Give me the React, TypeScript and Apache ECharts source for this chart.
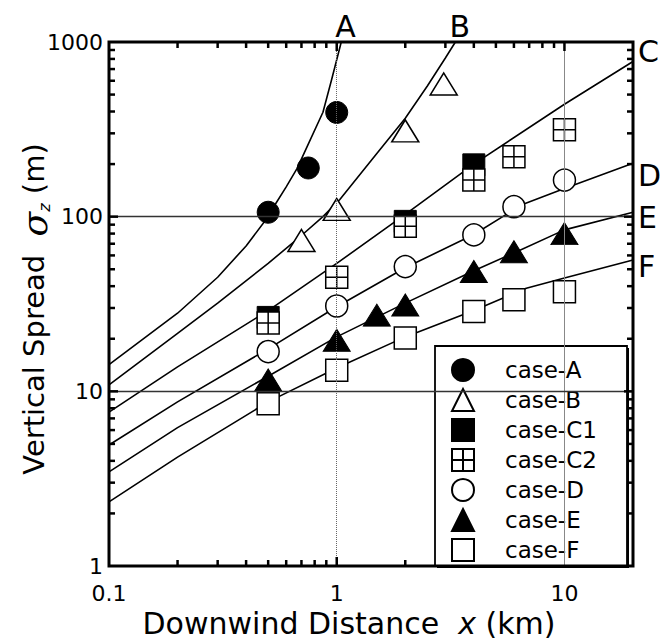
import React, { useEffect, useRef } from "react";
import * as echarts from "echarts";

// ---- axis ranges and tick labels ----
const X_MIN = 0.1;
const X_MAX = 20;
const Y_MIN = 1;
const Y_MAX = 1000;
const xTickLabels = ["0.1", "1", "10"];
const yTickLabels = ["1", "10", "100", "1000"];
const xGridValues = [1, 10];
const yGridValues = [10, 100];
const minorMultipliers = [2, 3, 4, 5, 6, 7, 8, 9];
const xDecades = [0.1, 1, 10];
const yDecades = [1, 10, 100];

// ---- stability-class curves ----
const curveNames = ["A", "B", "C", "D", "E", "F"];
const curveA = [[0.1, 14.2], [0.2, 28], [0.3, 45], [0.4, 68], [0.5, 100], [0.54, 119], [0.6, 148], [0.67, 189], [0.75, 260], [0.87, 396], [0.95, 610], [1.047, 1000]];
const curveB = [[0.1, 10.9], [0.2, 21.5], [0.3, 32], [0.5, 54], [0.7, 78], [0.87, 100], [1.03, 125], [1.5, 230], [2.0, 366], [2.5, 560], [3.0, 810], [3.32, 1000]];
const curveC = [[0.1, 7.6], [0.2, 13.8], [0.5, 29], [1, 54], [2, 103], [4, 200], [10, 440], [20, 773]];
const curveD = [[0.1, 4.93], [0.2, 8.7], [0.5, 17.5], [1, 30.5], [2, 51], [4, 79], [6.5, 117], [10, 145], [20, 202]];
const curveE = [[0.1, 3.46], [0.2, 6.2], [0.5, 12.2], [1, 20.5], [2, 32], [4, 49], [6, 62], [10, 84], [20, 106]];
const curveF = [[0.1, 2.33], [0.2, 4.2], [0.5, 8.7], [1, 13.6], [2, 20.5], [4, 29], [6.8, 38.9], [10, 44.5], [20, 56.5]];
const curves = [curveA, curveB, curveC, curveD, curveE, curveF];
// label offsets of curve-end letters
const curveLabelOffsets = [[-6, -16], [-6, -16], [5, -10], [5, 12], [5, 5], [5, 7]];

// ---- observed cases ----
const caseNames = ["case-A", "case-B", "case-C1", "case-C2", "case-D", "case-E", "case-F"];
const caseA = [[0.5, 106], [0.75, 190], [1.0, 395]];
const caseB = [[0.7, 73], [1.0, 110], [2.0, 310], [2.95, 575]];
const caseC1 = [[0.5, 26.5], [2, 94], [4, 198]];
const caseC2 = [[0.5, 24.6], [1, 45], [2, 88], [4, 162], [6, 220], [10, 314]];
const caseD = [[0.5, 16.9], [1, 30.8], [2, 51.8], [4, 78.6], [6, 114], [10, 162]];
const caseE = [[0.5, 11.6], [1, 19.6], [1.5, 27.3], [2, 31.2], [4, 48.5], [6, 63], [10, 80]];
const caseF = [[0.5, 8.5], [1, 13.2], [2, 20.2], [4, 28.6], [6, 33.4], [10, 37.2]];

const FONT = "DejaVu Sans";
const C2_PATH = "path://M0,0H20V20H0Z M10,0V20 M0,10H20";
const TICK_W = 2.5;
const MINOR_LEN = 6;
const MAJOR_LEN = 9;
const LEGEND_BOX = { x: 435, y: 346, width: 192, height: 220 };

function fmtFrom(labels: string[]) {
  return (v: number) => {
    const hit = labels.find((l) => Math.abs(Math.log10(Number(l)) - Math.log10(v)) < 1e-6);
    return hit || "";
  };
}

export default function App() {
  const ref = useRef<HTMLDivElement>(null);
  useEffect(() => {
    if (!ref.current) return;
    const chart = echarts.init(ref.current, null, { renderer: "svg" });

    const vLine = (v: number, style: any) => [{ coord: [v, Y_MIN], lineStyle: style }, { coord: [v, Y_MAX] }];
    const hLine = (v: number, style: any) => [{ coord: [X_MIN, v], lineStyle: style }, { coord: [X_MAX, v] }];

    const lineSeries = curves.map((c, i) => ({
      type: "line",
      name: curveNames[i],
      data: c,
      showSymbol: false,
      symbol: "none",
      silent: true,
      z: 2,
      lineStyle: { color: "#000", width: 1.6 },
      endLabel: {
        show: true,
        formatter: curveNames[i],
        distance: 0,
        offset: curveLabelOffsets[i],
        fontFamily: FONT,
        fontSize: 30,
        color: "#000",
      },
      markLine:
        i === 0
          ? {
              silent: true,
              symbol: ["none", "none"],
              label: { show: false },
              data: [
                vLine(xGridValues[0], { color: "#666", width: 1, type: "dotted" }),
                vLine(xGridValues[1], { color: "#888", width: 1, type: "solid" }),
                hLine(yGridValues[0], { color: "#333", width: 1.3, type: "solid" }),
                hLine(yGridValues[1], { color: "#333", width: 1.3, type: "solid" }),
              ],
            }
          : undefined,
    }));

    const openStyle = { color: "#fff", borderColor: "#000", borderWidth: 1.5, opacity: 1 };
    const filledStyle = { color: "#000", borderColor: "#000", borderWidth: 1, opacity: 1 };
    const caseDefs = [
      { data: caseA, symbol: "circle", size: 22, style: filledStyle },
      { data: caseB, symbol: "triangle", size: [27, 22], style: openStyle },
      { data: caseC1, symbol: "rect", size: 22, style: filledStyle },
      { data: caseC2, symbol: C2_PATH, size: 22, style: openStyle },
      { data: caseD, symbol: "circle", size: 22, style: openStyle },
      { data: caseE, symbol: "triangle", size: [27, 22], style: filledStyle },
      { data: caseF, symbol: "rect", size: 22, style: openStyle },
    ];
    const scatterSeries = caseDefs.map((d, i) => ({
      type: "scatter",
      name: caseNames[i],
      data: d.data,
      symbol: d.symbol,
      symbolSize: d.size,
      itemStyle: d.style,
      silent: true,
      z: 2,
    }));

    const legendBox = [
      { type: "rect", z: 3, shape: { ...LEGEND_BOX, x: LEGEND_BOX.x + 2, y: LEGEND_BOX.y + 2 }, style: { fill: "#000" } },
      { type: "rect", z: 3, shape: { ...LEGEND_BOX }, style: { fill: "#fff", stroke: "#000", lineWidth: 1.8 } },
    ];

    const yTitle = {
      type: "text",
      z: 5,
      x: 34,
      y: 309,
      rotation: Math.PI / 2,
      style: {
        text: "Vertical Spread  {s|σ}{z|z} (m)",
        fontFamily: FONT,
        fontSize: 29,
        fill: "#000",
        align: "center",
        verticalAlign: "middle",
        rich: {
          s: { fontFamily: "DejaVu Serif", fontStyle: "italic", fontSize: 36, fill: "#000" },
          z: { fontFamily: FONT, fontStyle: "italic", fontSize: 16, fill: "#000", verticalAlign: "bottom" },
        },
      },
    };

    chart.setOption({
      animation: false,
      backgroundColor: "#fff",
      grid: { left: 109, top: 42, width: 524, height: 524, show: false, containLabel: false, outerBoundsMode: "none" },
      xAxis: {
        type: "log",
        logBase: 10,
        min: X_MIN,
        max: X_MAX,
        axisLine: { show: false },
        axisTick: { show: false },
        splitLine: { show: false },
        axisLabel: { formatter: fmtFrom(xTickLabels), fontFamily: FONT, fontSize: 22, color: "#000", margin: 16 },
        name: "Downwind Distance  {i|x} (km)",
        nameLocation: "middle",
        nameGap: 37,
        nameTextStyle: {
          fontFamily: FONT,
          fontSize: 30,
          color: "#000",
          padding: [0, 44, 0, 0],
          rich: { i: { fontFamily: FONT, fontStyle: "italic", fontSize: 30, color: "#000" } },
        },
      },
      yAxis: {
        type: "log",
        logBase: 10,
        min: Y_MIN,
        max: Y_MAX,
        axisLine: { show: false },
        axisTick: { show: false },
        splitLine: { show: false },
        axisLabel: { formatter: fmtFrom(yTickLabels), fontFamily: FONT, fontSize: 22, color: "#000", margin: 6 },
      },
      legend: {
        data: caseNames,
        orient: "vertical",
        left: 446,
        top: 353,
        itemWidth: 22,
        itemHeight: 22,
        itemGap: 6,
        selectedMode: false,
        textStyle: { fontFamily: FONT, fontSize: 23, color: "#000", padding: [0, 0, 0, 26] },
      },
      graphic: [...legendBox, yTitle],
      series: [...lineSeries, ...scatterSeries],
    });

    // frame and inward tick marks, placed through the axes' own scales
    const px = (v: number[]) => chart.convertToPixel({ gridIndex: 0 }, v) as number[];
    const seg = (x1: number, y1: number, x2: number, y2: number) => ({
      type: "line",
      z: 5,
      shape: { x1, y1, x2, y2 },
      style: { stroke: "#000", lineWidth: TICK_W },
    });
    const ticks: any[] = [];
    const xTicks: number[][] = [];
    xDecades.forEach((d) => minorMultipliers.forEach((m) => { if (d * m < X_MAX) xTicks.push([d * m, 0]); }));
    xGridValues.forEach((v) => xTicks.push([v, 1]));
    const yTicks: number[][] = [];
    yDecades.forEach((d) => minorMultipliers.forEach((m) => yTicks.push([d * m, 0])));
    yGridValues.forEach((v) => yTicks.push([v, 1]));
    xTicks.forEach(([v, mj]) => {
      const L = mj ? MAJOR_LEN : MINOR_LEN;
      const b = px([v, Y_MIN]);
      const t = px([v, Y_MAX]);
      // bottom ticks behind the legend box are hidden, as in the original
      if (b[0] < LEGEND_BOX.x) ticks.push(seg(b[0], b[1], b[0], b[1] - L));
      ticks.push(seg(t[0], t[1], t[0], t[1] + L));
    });
    yTicks.forEach(([v, mj]) => {
      const L = mj ? MAJOR_LEN : MINOR_LEN;
      const l = px([X_MIN, v]);
      const r = px([X_MAX, v]);
      ticks.push(seg(l[0], l[1], l[0] + L, l[1]));
      ticks.push(seg(r[0], r[1], r[0] - L, r[1]));
    });
    const tl = px([X_MIN, Y_MAX]);
    const br = px([X_MAX, Y_MIN]);
    const frame = {
      type: "rect",
      z: 5,
      shape: { x: tl[0], y: tl[1], width: br[0] - tl[0], height: br[1] - tl[1] },
      style: { fill: "none", stroke: "#000", lineWidth: 3 },
    };
    chart.setOption({ graphic: [...legendBox, yTitle, ...ticks, frame] }, { replaceMerge: ["graphic"] });

    return () => chart.dispose();
  }, []);
  return <div ref={ref} style={{ position: "absolute", left: 0, top: 0, width: 665, height: 642 }} />;
}
